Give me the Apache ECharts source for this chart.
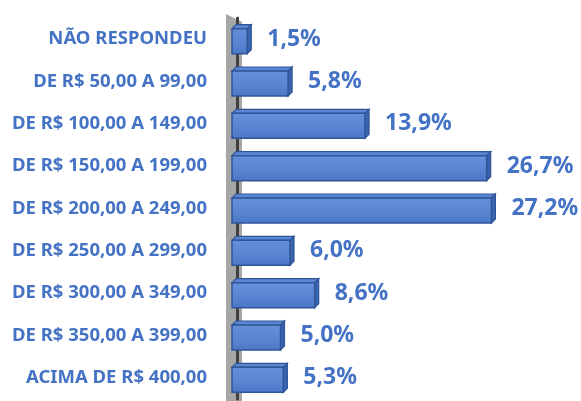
<!DOCTYPE html>
<html><head><meta charset="utf-8">
<script src="https://cdn.jsdelivr.net/npm/echarts@6/dist/echarts.min.js"></script>
<style>html,body{margin:0;padding:0;background:#fff}#c{width:581px;height:401px}</style>
</head><body><div id="c"></div>
<script>
const categories = ['NÃO RESPONDEU','DE R$ 50,00 A 99,00','DE R$ 100,00 A 149,00','DE R$ 150,00 A 199,00','DE R$ 200,00 A 249,00','DE R$ 250,00 A 299,00','DE R$ 300,00 A 349,00','DE R$ 350,00 A 399,00','ACIMA DE R$ 400,00'];
const values = [1.5,5.8,13.9,26.7,27.2,6.0,8.6,5.0,5.3];
const chart = echarts.init(document.getElementById('c'));
const blue = '#4472C4';
const D = 4; // 3D depth
const START = 5; // bars start a little left of zero
function renderItem(params, api){
  const v = api.value(1);
  const p0 = api.coord([0, api.value(0)]);
  const p1 = api.coord([v, api.value(0)]);
  const h = 25;
  const x0 = p0[0] - START, x1 = p1[0] - D, yT = p0[1] - h/2 + D/2, yB = p0[1] + h/2 + D/2;
  return {type:'group', children:[
    {type:'polygon', shape:{points:[[x0,yT],[x0+D,yT-D],[x1+D,yT-D],[x1,yT]]},
      style:{fill:'#5b86d4',stroke:'#2F5597',lineWidth:1.2}},
    {type:'polygon', shape:{points:[[x1,yT],[x1+D,yT-D],[x1+D,yB-D],[x1,yB]]},
      style:{fill:'#3a64b0',stroke:'#2F5597',lineWidth:1.2}},
    {type:'rect', shape:{x:x0,y:yT,width:x1-x0,height:yB-yT},
      style:{fill:{type:'linear',x:0,y:0,x2:0,y2:1,colorStops:[{offset:0,color:'#6590da'},{offset:0.5,color:'#5a86d3'},{offset:1,color:'#4a76c6'}]},
        stroke:'#2F5597',lineWidth:1.5}}
  ]};
}
chart.setOption({
  animation:false,
  grid:{left:237,right:59,top:18,bottom:2},
  xAxis:{type:'value',min:0,max:30,show:false},
  yAxis:{type:'category',inverse:true,data:categories,offset:12,
    axisLine:{show:true,lineStyle:{color:'#404040',width:3}},
    axisTick:{show:false},
    axisLabel:{color:blue,fontWeight:'bold',fontSize:18.5,fontFamily:'Noto Sans',margin:18}},
  graphic:[{type:'polygon',z:0,shape:{points:[[226,14],[242,22],[242,401],[226,401]]},style:{fill:'#a6a6a6'}}],
  series:[
    {type:'custom',renderItem:renderItem,data:values.map((v,i)=>[i,v]),encode:{x:1,y:0},z:3},
    {type:'bar',data:values,barWidth:26,z:2,itemStyle:{color:'rgba(0,0,0,0)'},
    label:{show:true,position:'right',distance:16,color:blue,fontWeight:'bold',fontSize:23,fontFamily:'Noto Sans',
      formatter:p=>p.value.toFixed(1).replace('.',',')+'%'}}]
});
</script></body></html>
